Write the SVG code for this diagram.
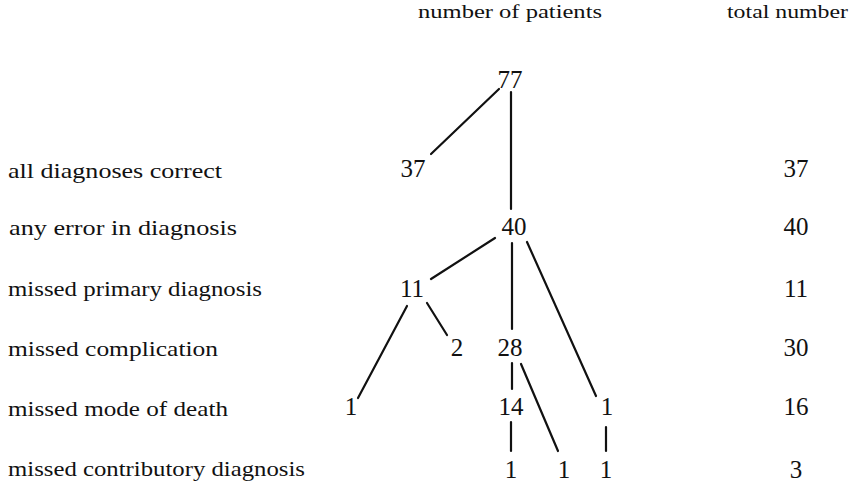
<svg xmlns="http://www.w3.org/2000/svg" width="861" height="483" viewBox="0 0 861 483">
<style>
text{font-family:"Liberation Serif","Times New Roman",serif;fill:#111}
.h{font-size:19px}
.l{font-size:22px}
.n{font-size:25px;text-anchor:middle}
.c line{stroke:#111;stroke-width:2.2;stroke-linecap:round}
</style>
<rect width="861" height="483" fill="#fff"/>
<g id="headers">
<text class="h" x="418" y="18" textLength="184" lengthAdjust="spacingAndGlyphs">number of patients</text>
<text class="h" x="727" y="18" textLength="121" lengthAdjust="spacingAndGlyphs">total number</text>
</g>
<g id="labels">
<text class="l" x="8" y="178" textLength="214" lengthAdjust="spacingAndGlyphs">all diagnoses correct</text>
<text class="l" x="9" y="235" textLength="228" lengthAdjust="spacingAndGlyphs">any error in diagnosis</text>
<text class="l" x="8" y="296" textLength="254" lengthAdjust="spacingAndGlyphs">missed primary diagnosis</text>
<text class="l" x="8" y="356" textLength="210" lengthAdjust="spacingAndGlyphs">missed complication</text>
<text class="l" x="8" y="416" textLength="220" lengthAdjust="spacingAndGlyphs">missed mode of death</text>
<text class="l" x="8" y="476" textLength="297" lengthAdjust="spacingAndGlyphs">missed contributory diagnosis</text>
</g>
<g class="c" id="connectors">
<line x1="499" y1="89" x2="431" y2="154"/>
<line x1="511" y1="92" x2="511" y2="209"/>
<line x1="495" y1="238" x2="431" y2="279"/>
<line x1="512" y1="243" x2="512" y2="329"/>
<line x1="527" y1="242" x2="596" y2="396"/>
<line x1="407" y1="306" x2="358" y2="398"/>
<line x1="427" y1="303" x2="447" y2="335"/>
<line x1="512" y1="363" x2="512" y2="389"/>
<line x1="521" y1="364" x2="558" y2="451"/>
<line x1="511" y1="422" x2="511" y2="451"/>
<line x1="606" y1="427" x2="606" y2="451"/>
</g>
<g id="n77"><text x="510" y="88" class="n">77</text></g>
<g id="n37"><text x="413" y="177" class="n">37</text></g>
<g id="n40"><text x="514" y="235" class="n">40</text></g>
<g id="n11"><text x="412" y="297" class="n">11</text></g>
<g id="n2"><text x="457" y="356" class="n">2</text></g>
<g id="n28"><text x="510" y="356" class="n">28</text></g>
<g id="n1a"><text x="351" y="415" class="n">1</text></g>
<g id="n14"><text x="511" y="415" class="n">14</text></g>
<g id="n1b"><text x="607" y="415" class="n">1</text></g>
<g id="n1c"><text x="511" y="478" class="n">1</text></g>
<g id="n1d"><text x="564" y="478" class="n">1</text></g>
<g id="n1e"><text x="606" y="478" class="n">1</text></g>
<g id="totals">
<text x="796" y="177" class="n">37</text>
<text x="796" y="235" class="n">40</text>
<text x="796" y="297" class="n">11</text>
<text x="796" y="356" class="n">30</text>
<text x="796" y="415" class="n">16</text>
<text x="796" y="478" class="n">3</text>
</g>
</svg>
